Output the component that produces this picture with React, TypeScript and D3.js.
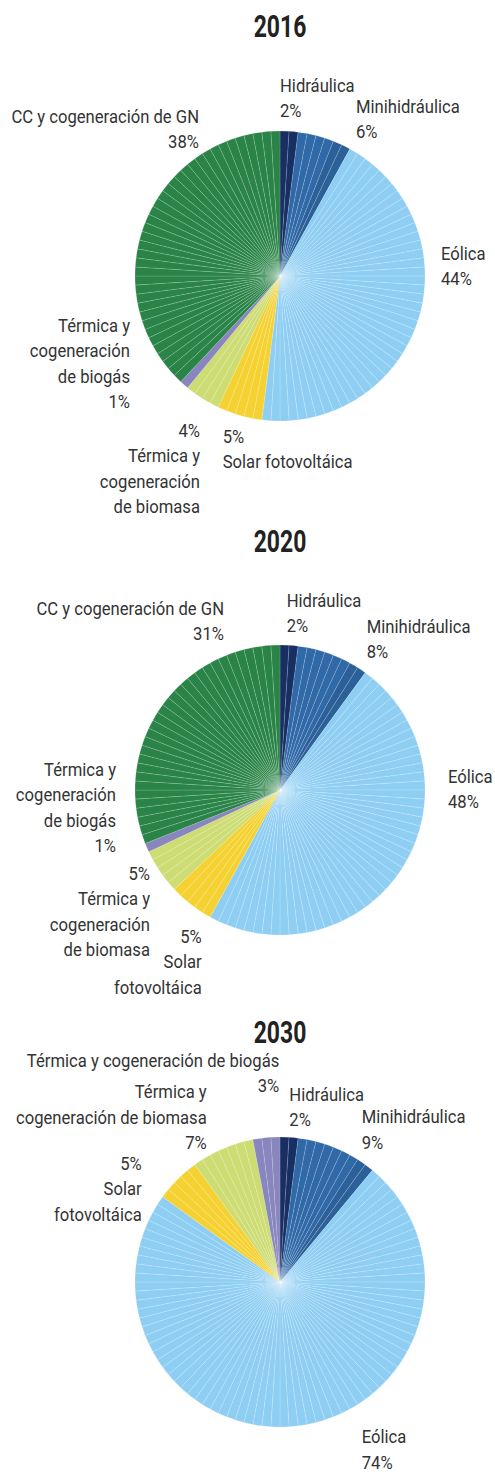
import React from 'react';
import * as d3 from 'd3';

const categories = [
  'Hidráulica',
  'Minihidráulica',
  'Eólica',
  'Solar fotovoltáica',
  'Térmica y cogeneración de biomasa',
  'Térmica y cogeneración de biogás',
  'CC y cogeneración de GN',
];
const years = ['2016', '2020', '2030'];
const values2016 = [2, 6, 44, 5, 4, 1, 38];
const values2020 = [2, 8, 48, 5, 5, 1, 31];
const values2030 = [2, 9, 74, 5, 7, 3, 0];
const seriesValues = [values2016, values2020, values2030];

const colors = ['#172f62', '#2f69a7', '#8fcef3', '#f5d232', '#cedc74', '#8885bf', '#2a8447'];

type Lbl = { cat: number; anchor: 'start' | 'end'; x: number; y: number; lines: string[] };

const labelLayouts: Lbl[][] = [
  [
    { cat: 0, anchor: 'start', x: 280, y: 92, lines: ['Hidráulica', '{v}'] },
    { cat: 1, anchor: 'start', x: 356, y: 113, lines: ['Minihidráulica', '{v}'] },
    { cat: 2, anchor: 'start', x: 441, y: 260, lines: ['Eólica', '{v}'] },
    { cat: 3, anchor: 'start', x: 222.7, y: 442.7, lines: ['{v}', 'Solar fotovoltáica'] },
    { cat: 4, anchor: 'end', x: 200, y: 436.7, lines: ['{v}', 'Térmica y', 'cogeneración', 'de biomasa'] },
    { cat: 5, anchor: 'end', x: 130, y: 331.7, lines: ['Térmica y', 'cogeneración', 'de biogás', '{v}'] },
    { cat: 6, anchor: 'end', x: 199, y: 123, lines: ['CC y cogeneración de GN', '{v}'] },
  ],
  [
    { cat: 0, anchor: 'start', x: 286.7, y: 607, lines: ['Hidráulica', '{v}'] },
    { cat: 1, anchor: 'start', x: 366.7, y: 633, lines: ['Minihidráulica', '{v}'] },
    { cat: 2, anchor: 'start', x: 448, y: 783, lines: ['Eólica', '{v}'] },
    { cat: 3, anchor: 'end', x: 201.7, y: 942.7, lines: ['{v}', 'Solar', 'fotovoltáica'] },
    { cat: 4, anchor: 'end', x: 150, y: 880, lines: ['{v}', 'Térmica y', 'cogeneración', 'de biomasa'] },
    { cat: 5, anchor: 'end', x: 116, y: 776, lines: ['Térmica y', 'cogeneración', 'de biogás', '{v}'] },
    { cat: 6, anchor: 'end', x: 224, y: 615, lines: ['CC y cogeneración de GN', '{v}'] },
  ],
  [
    { cat: 0, anchor: 'start', x: 289.3, y: 1100.7, lines: ['Hidráulica', '{v}'] },
    { cat: 1, anchor: 'start', x: 361.7, y: 1123.3, lines: ['Minihidráulica', '{v}'] },
    { cat: 2, anchor: 'start', x: 361.7, y: 1443.5, lines: ['Eólica', '{v}'] },
    { cat: 3, anchor: 'end', x: 141.7, y: 1170, lines: ['{v}', 'Solar', 'fotovoltáica'] },
    { cat: 4, anchor: 'end', x: 206.7, y: 1098.3, lines: ['Térmica y', 'cogeneración de biomasa', '{v}'] },
    { cat: 5, anchor: 'end', x: 279.3, y: 1066.7, lines: ['Térmica y cogeneración de biogás', '{v}'] },
  ],
];

const centers = [
  { cx: 280, cy: 276, titleY: 37 },
  { cx: 280, cy: 790, titleY: 551.7 },
  { cx: 280, cy: 1282, titleY: 1042.7 },
];
const R = 145;
const LINE_H = 25.5;
const FONT = "Roboto, 'Noto Sans', sans-serif";
const LABEL_SIZE = 18.5;
const LABEL_SX = 0.9;
const TITLE_SIZE = 31;
const TITLE_SX = 0.74;
const TEXT_COLOR = '#333333';

export default function App() {
  const pie = d3.pie<number>().sort(null).value((d) => d);
  const arc = d3.arc<any>().innerRadius(0).outerRadius(R);

  return (
    <svg
      width={495}
      height={1472}
      style={{ position: 'absolute', left: 0, top: 0, background: '#fff' }}
      fontFamily={FONT}
    >
      {years.map((yr, yi) => {
        const vals = seriesValues[yi];
        const arcs = pie(vals);
        const { cx, cy, titleY } = centers[yi];
        return (
          <g key={yr}>
            <g transform={`translate(${cx},${titleY}) scale(${TITLE_SX},1)`}>
              <text x={0} y={0} textAnchor="middle" fontSize={TITLE_SIZE} fontWeight="bold" fill="#222">
                {yr}
              </text>
            </g>
            <g transform={`translate(${cx},${cy})`}>
              {arcs.map((a, i) => {
                if (a.value <= 0) return null;
                const n = Math.max(1, Math.round(a.value));
                const step = (a.endAngle - a.startAngle) / n;
                const base = d3.color(colors[i])!;
                const subs = d3.range(n).map((k) => ({
                  startAngle: a.startAngle + k * step,
                  endAngle: a.startAngle + (k + 1) * step,
                }));
                return (
                  <g key={i}>
                    {subs.map((s, k) => (
                      <path
                        key={k}
                        d={arc(s) as string}
                        fill={i === 1 && k >= n - Math.ceil(n / 5) ? base.darker(0.25).toString() : colors[i]}
                        stroke="#ffffff"
                        strokeOpacity={0.3}
                        strokeWidth={0.5}
                      />
                    ))}
                  </g>
                );
              })}
            </g>
            {labelLayouts[yi].map((l) => (
              <g key={l.cat} transform={`translate(${l.x},0) scale(${LABEL_SX},1)`}>
                <text x={0} y={l.y} textAnchor={l.anchor} fontSize={LABEL_SIZE} fill={TEXT_COLOR}>
                  {l.lines.map((ln, li) => (
                    <tspan key={li} x={0} y={l.y + li * LINE_H}>
                      {ln.replace('{v}', `${vals[l.cat]}%`)}
                    </tspan>
                  ))}
                </text>
              </g>
            ))}
          </g>
        );
      })}
    </svg>
  );
}
